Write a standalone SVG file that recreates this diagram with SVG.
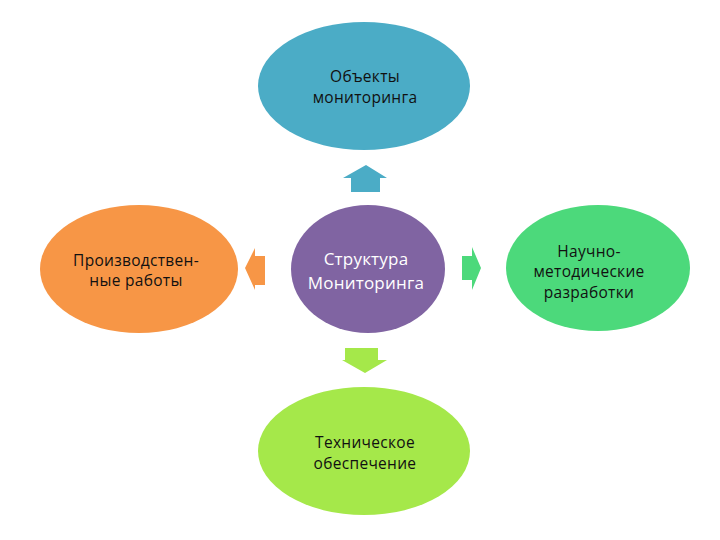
<svg xmlns="http://www.w3.org/2000/svg" width="720" height="540" viewBox="0 0 720 540">
<style>
.t{font-family:"Open Sans","Noto Sans",sans-serif;font-size:15.5px;letter-spacing:0.3px;fill:#111111;text-anchor:middle}
.w{font-family:"Open Sans","Noto Sans",sans-serif;font-size:17px;letter-spacing:0.2px;fill:#ffffff;text-anchor:middle}
</style>
<rect width="720" height="540" fill="#ffffff"/>
<g id="connectors">
<polygon id="arrow-up" points="366,165 387,178 380,178 380,192 351,192 351,178 343,178" fill="#4BACC6"/>
<polygon id="arrow-left" points="245,268 255,248 255,256 265,256 265,285 255,285 255,290" fill="#F79646"/>
<polygon id="arrow-right" points="481,268 472,247 472,256 462,256 462,280 472,280 472,290" fill="#4CD97B"/>
<polygon id="arrow-down" points="365,373 387,360 378,360 378,348 345,348 345,360 342,360" fill="#A5E84A"/>
</g>
<g id="node-top">
<ellipse cx="364" cy="86" rx="106" ry="64" fill="#4BACC6"/>
<text class="t" x="365" y="82">Объекты</text>
<text class="t" x="365" y="103">мониторинга</text>
</g>
<g id="node-center">
<ellipse cx="368" cy="269" rx="77" ry="64" fill="#8064A2"/>
<text class="w" x="366" y="265">Структура</text>
<text class="w" x="366" y="289">Мониторинга</text>
</g>
<g id="node-left">
<ellipse cx="139" cy="269" rx="99" ry="64" fill="#F79646"/>
<text class="t" x="136" y="266">Производствен-</text>
<text class="t" x="136" y="286">ные работы</text>
</g>
<g id="node-right">
<ellipse cx="598" cy="268" rx="92" ry="63" fill="#4CD97B"/>
<text class="t" x="589" y="257">Научно-</text>
<text class="t" x="589" y="277">методические</text>
<text class="t" x="589" y="298">разработки</text>
</g>
<g id="node-bottom">
<ellipse cx="364" cy="451" rx="106" ry="64" fill="#A5E84A"/>
<text class="t" x="365" y="448">Техническое</text>
<text class="t" x="365" y="469">обеспечение</text>
</g>
</svg>
